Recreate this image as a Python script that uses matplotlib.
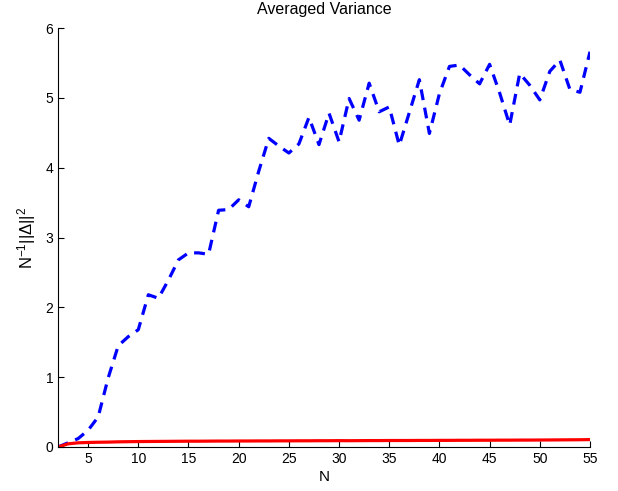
import matplotlib
matplotlib.use("Agg")
from matplotlib import pyplot as plt

plt.rcParams['font.family'] = ['Liberation Sans', 'DejaVu Sans']
plt.rcParams['mathtext.default'] = 'regular'

# -----data-----#
n_values = list(range(2, 56))
variance_blue = [0.00, 0.06, 0.12, 0.24, 0.43, 0.99, 1.45, 1.58, 1.68, 2.18,
                 2.13, 2.39, 2.68, 2.78, 2.78, 2.76, 3.39, 3.40, 3.54, 3.44,
                 3.95, 4.42, 4.31, 4.21, 4.34, 4.72, 4.33, 4.78, 4.37, 4.99,
                 4.68, 5.21, 4.80, 4.87, 4.32, 4.79, 5.26, 4.49, 5.06, 5.45,
                 5.47, 5.33, 5.20, 5.48, 5.07, 4.61, 5.35, 5.18, 4.97, 5.38,
                 5.54, 5.12, 5.08, 5.66]
variance_red = [0.000, 0.045, 0.060, 0.065, 0.068, 0.070, 0.074, 0.076, 0.078, 0.079,
                0.080, 0.081, 0.082, 0.083, 0.083, 0.084, 0.085, 0.085, 0.086, 0.086,
                0.087, 0.087, 0.088, 0.088, 0.089, 0.089, 0.090, 0.090, 0.091, 0.090,
                0.091, 0.092, 0.092, 0.093, 0.093, 0.093, 0.094, 0.094, 0.095, 0.095,
                0.096, 0.096, 0.097, 0.097, 0.098, 0.098, 0.099, 0.099, 0.100, 0.101,
                0.102, 0.103, 0.104, 0.106]
x_ticks = [5, 10, 15, 20, 25, 30, 35, 40, 45, 50, 55]
y_ticks = [0, 1, 2, 3, 4, 5, 6]

# -----plot-----#
fig = plt.figure(figsize=(6.18, 4.91), dpi=100)
ax = fig.add_axes([58 / 618, 44 / 491, 532 / 618, 419 / 491])

ax.plot(n_values, variance_blue, color='#0000ff', linewidth=2.3, linestyle=(0, (3.4, 2.4)))
ax.plot(n_values, variance_red, color='#ff0000', linewidth=2.3)

ax.set_xlim(2, 55)
ax.set_ylim(0, 6)
ax.set_xticks(x_ticks)
ax.set_yticks(y_ticks)
ax.spines['top'].set_visible(False)
ax.spines['right'].set_visible(False)
ax.tick_params(direction='in', length=4, labelsize=10, width=0.8)

ax.set_title('Averaged Variance', fontsize=11.5, pad=10)
ax.set_xlabel('N', fontsize=11, labelpad=3)
ax.set_ylabel('N$^{-1}$||Δ||$^2$', fontsize=12, labelpad=5)

plt.savefig('out.png', dpi=100)
